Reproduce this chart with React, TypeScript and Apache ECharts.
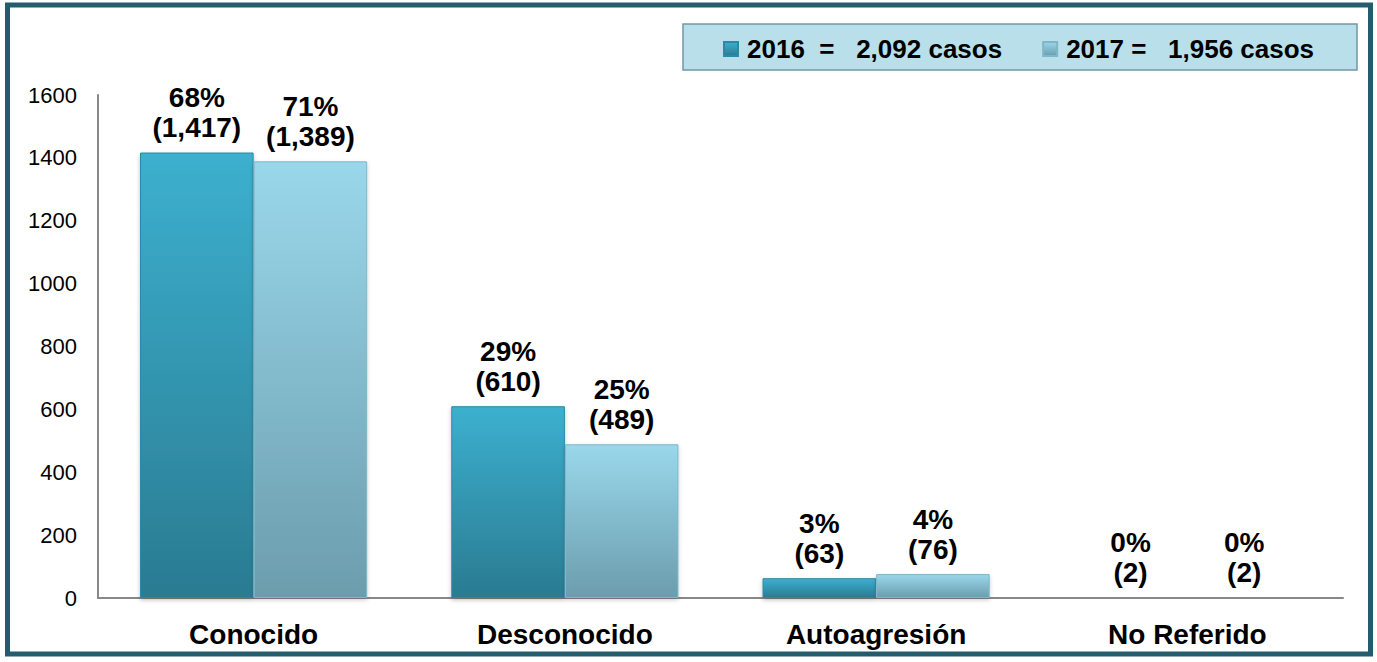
import React, { useEffect, useRef } from "react";
import * as echarts from "echarts";

const categories = ["Conocido", "Desconocido", "Autoagresión", "No Referido"];
const values2016 = [1417, 610, 63, 2];
const values2017 = [1389, 489, 76, 2];
const pct2016 = ["68%", "29%", "3%", "0%"];
const pct2017 = ["71%", "25%", "4%", "0%"];
const seriesNames = ["2016", "2017"];
const legendTexts = ["2016  =   2,092 casos", "2017 =   1,956 casos"];
const yTicks = { min: 0, max: 1600, interval: 200 };

const fmt = (n: number) => n.toLocaleString("en-US");
const FONT = "Arial, 'Liberation Sans', sans-serif";

export default function App() {
  const ref = useRef<HTMLDivElement>(null);
  useEffect(() => {
    if (!ref.current) return;
    const chart = echarts.init(ref.current, undefined, { renderer: "svg" });
    const grad = (top: string, bottom: string) =>
      new echarts.graphic.LinearGradient(0, 0, 0, 1, [
        { offset: 0, color: top },
        { offset: 1, color: bottom },
      ]);
    const mkLabel = (pcts: string[]) => ({
      show: true,
      position: "top",
      distance: 10,
      formatter: (p: any) => `{a|${pcts[p.dataIndex]}}\n{a|(${fmt(p.value)})}`,
      rich: {
        a: {
          fontFamily: FONT,
          fontWeight: "bold",
          fontSize: 28,
          lineHeight: 30,
          color: "#000",
          align: "center",
        },
      },
    });
    chart.setOption({
      animation: false,
      textStyle: { fontFamily: FONT },
      graphic: [
        {
          type: "rect",
          shape: { x: 7.5, y: 5, width: 1363, height: 649 },
          style: { fill: "none", stroke: "#235d6d", lineWidth: 5 },
          silent: true,
        },
        {
          type: "rect",
          shape: { x: 683, y: 24, width: 674, height: 46 },
          style: { fill: "#b8dfea", stroke: "#6f98a6", lineWidth: 1.5 },
          silent: true,
          z: -1,
        },
      ],
      legend: {
        data: seriesNames,
        left: 718,
        top: 31,
        itemWidth: 14,
        itemHeight: 14,
        itemGap: 40,
        icon: "rect",
        formatter: (name: string) => legendTexts[seriesNames.indexOf(name)],
        textStyle: {
          fontSize: 26,
          fontWeight: "bold",
          color: "#000",
          fontFamily: FONT,
          padding: [0, 0, 0, 4],
        },
      },
      grid: { left: 98, right: 34, top: 95, bottom: 64 },
      xAxis: {
        type: "category",
        data: categories,
        axisLine: { lineStyle: { color: "#888", width: 2 } },
        axisTick: { show: false },
        axisLabel: {
          fontSize: 28,
          fontWeight: "bold",
          color: "#000",
          margin: 22,
        },
      },
      yAxis: {
        type: "value",
        min: yTicks.min,
        max: yTicks.max,
        interval: yTicks.interval,
        axisLine: { show: true, lineStyle: { color: "#888", width: 2 } },
        axisTick: { show: false },
        splitLine: { show: false },
        axisLabel: { fontSize: 22, color: "#000", margin: 21, formatter: (v: number) => String(v) },
      },
      series: [
        {
          name: seriesNames[0],
          type: "bar",
          data: values2016,
          barGap: "0%",
          barCategoryGap: "27%",
          itemStyle: {
            color: grad("#3cb0cf", "#2a7b91"),
            borderColor: "#2b8aa5",
            borderWidth: 1,
            shadowColor: "rgba(0,0,0,0.25)",
            shadowBlur: 4,
            shadowOffsetY: 2,
          },
          label: mkLabel(pct2016),
        },
        {
          name: seriesNames[1],
          type: "bar",
          data: values2017,
          itemStyle: {
            color: grad("#9ad7eb", "#6b9dad"),
            borderColor: "#7fb7c9",
            borderWidth: 1,
            shadowColor: "rgba(0,0,0,0.2)",
            shadowBlur: 4,
            shadowOffsetY: 2,
          },
          label: mkLabel(pct2017),
        },
      ],
    });
    return () => chart.dispose();
  }, []);
  return (
    <div
      ref={ref}
      style={{ position: "fixed", left: 0, top: 0, width: 1377, height: 662, background: "#fff" }}
    />
  );
}
